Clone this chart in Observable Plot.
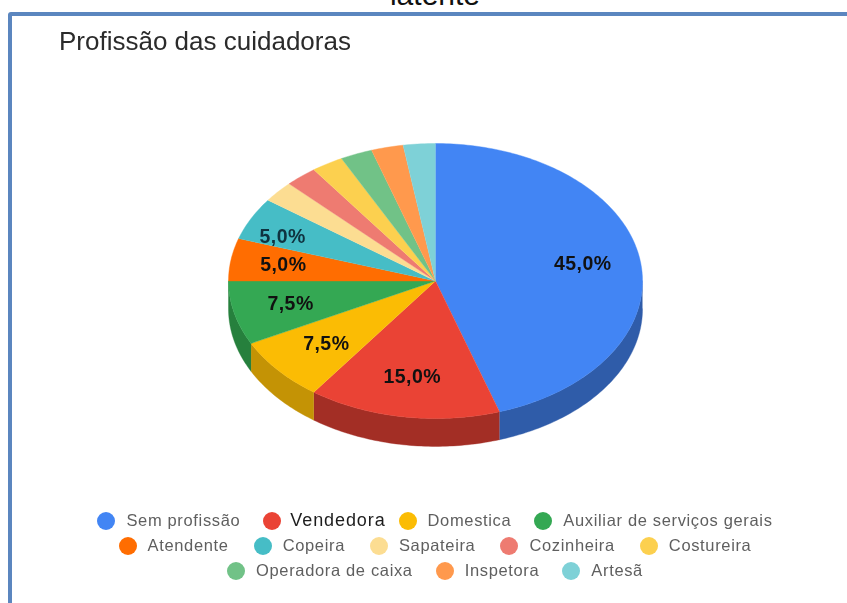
<!DOCTYPE html>
<html lang="pt">
<head>
<meta charset="utf-8">
<script src="https://cdn.jsdelivr.net/npm/d3@7"></script>
<script src="https://cdn.jsdelivr.net/npm/@observablehq/plot@0.6"></script>
<style>
  html, body { margin: 0; padding: 0; background: #fff; width: 847px; height: 603px; overflow: hidden; position: relative; font-family: "Liberation Sans", Arial, sans-serif; }
  #frame { position: absolute; left: 8px; top: 12px; width: 860px; height: 620px; border: 4.5px solid #5b86bf; border-radius: 3px; box-sizing: border-box; }
  #topline { position: absolute; left: 0; width: 870px; text-align: center; top: -22px; font-size: 30px; color: #111; line-height: 34px; }
  #title { position: absolute; left: 59px; top: 26px; font-size: 26px; line-height: 30px; color: #2b2b2b; white-space: nowrap; filter: blur(.3px); }
  #chart { position: absolute; left: 0; top: 0; filter: blur(.35px); }
  #chart svg { background: transparent; display: block; letter-spacing: .45px; }
  #legend { position: absolute; left: 0; width: 870px; top: 508px; font-size: 16.5px; letter-spacing: .65px; color: #5f5f5f; filter: blur(.3px); }
  .row { display: flex; justify-content: center; height: 25px; align-items: center; white-space: nowrap; }
  .row:nth-child(2) .item { margin: 0 12.5px; }
  .item { display: flex; align-items: center; margin: 0 11.5px; }
  .dot { width: 18px; height: 18px; border-radius: 50%; margin-right: 11px; flex: none; }
  .strong { font-size: 18px; letter-spacing: .9px; color: #1c1c1c; margin-left: -2px; margin-right: -10px; }
</style>
</head>
<body>
<div id="topline">latente</div>
<div id="frame"></div>
<div id="chart"></div>
<div id="title">Profissão das cuidadoras</div>
<div id="legend"></div>
<script>
const categories = ["Sem profissão","Vendedora","Domestica","Auxiliar de serviços gerais","Atendente","Copeira","Sapateira","Cozinheira","Costureira","Operadora de caixa","Inspetora","Artesã"];
const shares = [45,15,7.5,7.5,5,5,2.5,2.5,2.5,2.5,2.5,2.5];
const labels = ["45,0%","15,0%","7,5%","7,5%","5,0%","5,0%","","","","","",""];
const colors = ["#4285f4","#ea4335","#fbbc04","#34a853","#ff6d01","#46bdc6","#fcdd92","#ee7b71","#fcd04f","#71c287","#ff994d","#7ed1d7"];
const sideColors = ["#2f5ca9","#a32e25","#c49305","#26803d"];
const legendRows = [4, 5, 3];

// Pie geometry comes from the shares via d3.pie; the x/y scales squash it into the tilted ellipse.
const depth = 0.203;
const labelNudge = {Domestica: [0.02, 0], "Auxiliar de serviços gerais": [0, -0.015], Atendente: [-0.024, -0.01], Copeira: [-0.097, -0.02]};
const arcs = d3.pie().sort(null).value(d => d)(shares);
const deg = Math.PI / 180;
const pt = (a, r = 1, dy = 0) => ({x: r * Math.sin(a), y: r * Math.cos(a) - dy});
const sweep = (a0, a1) => {
  const n = Math.max(2, Math.ceil((a1 - a0) / deg));
  return d3.range(n + 1).map(i => a0 + (a1 - a0) * i / n);
};
const faces = arcs.flatMap((s, i) => [pt(0, 0), ...sweep(s.startAngle, s.endAngle).map(a => pt(a))]
  .map(p => ({...p, name: categories[i], color: colors[i]})));
const walls = arcs.flatMap((s, i) => {
  const a0 = Math.max(s.startAngle, Math.PI / 2), a1 = Math.min(s.endAngle, 3 * Math.PI / 2);
  if (a1 <= a0) return [];
  const as = sweep(a0, a1);
  return [...as.map(a => pt(a)), ...as.slice().reverse().map(a => pt(a, 1, depth))]
    .map(p => ({...p, name: categories[i], color: sideColors[i]}));
});
const labelData = arcs.map((s, i) => {
  const p = pt((s.startAngle + s.endAngle) / 2, 0.72);
  const [nx, ny] = labelNudge[categories[i]] || [0, 0];
  return {x: p.x + nx, y: p.y + ny, text: labels[i], fill: categories[i] === "Copeira" ? "#0f3340" : "#111"};
}).filter(d => d.text);

const plot = Plot.plot({
  width: 847, height: 603, margin: 0,
  x: {domain: [-1, 1], range: [228, 642], axis: null},
  y: {domain: [-1, 1], range: [418, 143], axis: null},
  color: {type: "identity"},
  marks: [
    Plot.line(walls, {x: "x", y: "y", z: "name", fill: "color", stroke: "color", strokeWidth: 0.4, curve: "linear"}),
    Plot.line(faces, {x: "x", y: "y", z: "name", fill: "color", stroke: "color", strokeWidth: 0.4, curve: "linear"}),
    Plot.text(labelData, {x: "x", y: "y", dy: -2, text: "text", fill: "fill", fontSize: 19.5, fontWeight: "bold", fontFamily: "Liberation Sans, Arial, sans-serif"})
  ]
});
document.getElementById("chart").appendChild(plot);

const legend = document.getElementById("legend");
let k = 0;
legendRows.forEach(n => {
  const row = document.createElement("div");
  row.className = "row";
  for (let i = 0; i < n; i++, k++) {
    const item = document.createElement("div");
    item.className = "item";
    const dot = document.createElement("span");
    dot.className = "dot";
    dot.style.background = colors[k];
    const txt = document.createElement("span");
    txt.textContent = categories[k];
    if (categories[k] === "Vendedora") txt.className = "strong";
    item.append(dot, txt);
    row.appendChild(item);
  }
  legend.appendChild(row);
});
</script>
</body>
</html>
